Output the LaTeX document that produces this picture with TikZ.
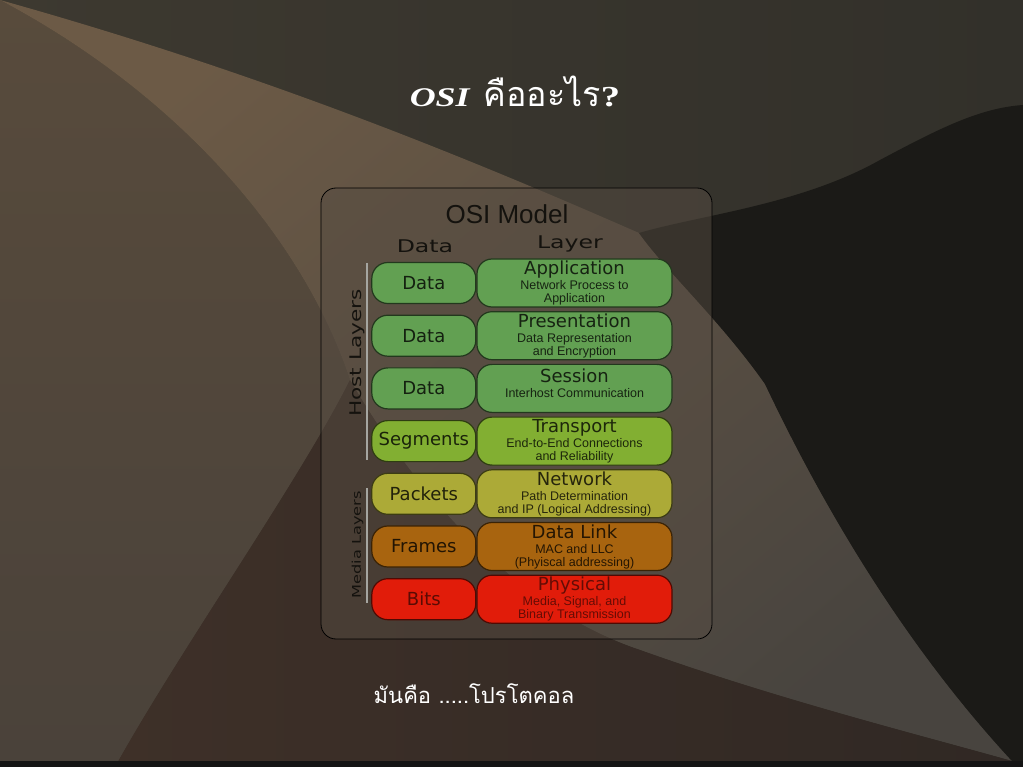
\documentclass[tikz,border=0pt]{standalone}
\usepackage{fontspec}
\setmainfont{Liberation Sans}
\newfontfamily\verd{DejaVu Sans}
\newfontfamily\wideverd[FakeStretch=1.35]{DejaVu Sans}
\newfontfamily\slidefont[FakeStretch=1.33]{Liberation Serif}
\newfontfamily\thaifont[Script=Thai]{Loma}
\usetikzlibrary{positioning}

\definecolor{bgtop}{RGB}{61,57,48}
\definecolor{bgtopr}{RGB}{50,48,42}
\definecolor{bgleft}{RGB}{88,75,60}
\definecolor{bgleftb}{RGB}{74,66,58}
\definecolor{swoosh}{RGB}{108,90,70}
\definecolor{swooshb}{RGB}{72,68,63}
\definecolor{bglow}{RGB}{62,48,40}
\definecolor{bglowr}{RGB}{48,40,36}
\definecolor{bgdark}{RGB}{27,26,23}
\definecolor{panel}{RGB}{86,76,66}
\definecolor{ink}{RGB}{20,18,14}
\definecolor{rule}{RGB}{165,165,160}
\definecolor{hostc}{RGB}{98,160,82}
\definecolor{transc}{RGB}{130,175,50}
\definecolor{netc}{RGB}{172,170,55}
\definecolor{linkc}{RGB}{168,100,15}
\definecolor{physc}{RGB}{225,28,10}

\newcommand\lname[1]{{\verd\fontsize{18}{13}\selectfont #1}}
\newcommand\descfont{\fontsize{12.5}{13}\selectfont\lineskiplimit=-20pt\relax}

\begin{document}
\begin{tikzpicture}[x=1pt, y=-1pt, node distance=3.5pt and 0pt,
    pdu/.style={draw=#1!35!black, fill=#1, line width=1.2pt, rounded corners=16pt,
      minimum width=104pt, minimum height=41pt, inner sep=0pt, text=#1!20!black,
      font=\verd\fontsize{18}{18}\selectfont},
    lyr/.style={draw=#1!35!black, fill=#1, line width=1.2pt, rounded corners=15pt,
      minimum width=195pt, minimum height=48pt, inner sep=0pt, align=center,
      text=#1!22!black, font=\descfont},
    head/.style={anchor=base, text=ink, inner sep=0pt},
    side/.style={rotate=90, text=ink, inner sep=0pt},
    sep/.style={draw=rule, line width=2pt}]

    \useasboundingbox (0,0) rectangle (1023,767);

    % background of the slide
    \shade[left color=bgtop, right color=bgtopr] (0,0) rectangle (1023,767);
    \shade[top color=bgleft, bottom color=bgleftb] (0,0) .. controls (170,90) and (300,230) .. (350,380)
        .. controls (300,480) and (180,650) .. (115,767) -- (0,767) -- cycle;
    \shade[top color=swoosh, bottom color=swooshb, shading angle=40] (0,0) .. controls (250,70) and (450,150) .. (639,233)
        .. controls (665,270) and (720,320) .. (765,384) .. controls (820,500) and (900,640) .. (1012,761)
        .. controls (920,735) and (780,700) .. (640,650) .. controls (520,610) and (420,500) .. (350,380)
        .. controls (300,230) and (170,90) .. (0,0) -- cycle;
    \shade[left color=bglow, right color=bglowr] (350,380) .. controls (420,500) and (520,610) .. (640,650)
        .. controls (780,700) and (920,735) .. (1012,761) -- (1012,767) -- (115,767)
        .. controls (180,650) and (300,480) .. (350,380) -- cycle;
    \fill[bgdark] (639,233) .. controls (700,215) and (800,205) .. (880,160)
        .. controls (940,128) and (980,108) .. (1023,105) -- (1023,761) -- (1012,761)
        .. controls (900,640) and (820,500) .. (765,384) .. controls (720,320) and (665,270) .. (639,233) -- cycle;
    \fill[black!92] (0,761) rectangle (1023,767);

    % slide texts
    \node (title) [anchor=base, text=white, inner sep=0pt] at (515,107)
        {{\slidefont\bfseries\itshape\fontsize{27}{27}\selectfont OSI}\hspace{14pt}{\thaifont\fontsize{34}{34}\selectfont คืออะไร}{\slidefont\bfseries\fontsize{29}{29}\selectfont ?}};
    \node (proto) [anchor=base, text=white, inner sep=0pt, font=\thaifont\fontsize{22}{22}\selectfont] at (474,703)
        {มันคือ .....โปรโตคอล};

    % the model panel
    \node (panel) [draw=black, line width=0.8pt, fill=panel, fill opacity=0.5, rounded corners=15pt,
        minimum width=391pt, minimum height=451pt] at (516.5,413.5) {};
    \node (model) [head, font=\fontsize{26}{26}\selectfont] at (507,224) {OSI Model};
    \node (hdata) [head, font=\wideverd\fontsize{17.5}{17.5}\selectfont] at (425,253) {Data};
    \node (hlayer) [head, font=\wideverd\fontsize{17.5}{17.5}\selectfont] at (570,249) {Layer};

    % layers
    \node (app) [lyr=hostc] at (574.5,283) {\lname{Application}\\[2pt]Network Process to\\Application};
    \node (pre) [lyr=hostc, below=of app] {\lname{Presentation}\\[2pt]Data Representation\\and Encryption};
    \node (ses) [lyr=hostc, below=of pre] {\lname{Session}\\[2pt]Interhost Communication\\[-3pt]\mbox{}};
    \node (tra) [lyr=transc, below=of ses] {\lname{Transport}\\[2pt]End-to-End Connections\\and Reliability};
    \node (net) [lyr=netc, below=of tra] {\lname{Network}\\[2pt]Path Determination\\and IP (Logical Addressing)};
    \node (lnk) [lyr=linkc, below=of net] {\lname{Data Link}\\[2pt]MAC and LLC\\(Phyiscal addressing)};
    \node (phy) [lyr=physc, below=of lnk, text=physc!45!black] {\lname{Physical}\\[2pt]Media, Signal, and\\Binary Transmission};

    % data units
    \node (d7) [pdu=hostc, left=of app] {Data};
    \node (d6) [pdu=hostc, left=of pre] {Data};
    \node (d5) [pdu=hostc, left=of ses] {Data};
    \node (d4) [pdu=transc, left=of tra] {Segments};
    \node (d3) [pdu=netc, left=of net] {Packets};
    \node (d2) [pdu=linkc, left=of lnk] {Frames};
    \node (d1) [pdu=physc, left=of phy, text=physc!40!black] {Bits};

    % host and media groups
    \draw[sep] (367,263) -- (367,460);
    \draw[sep] (367,488) -- (367,603);
    \node (host) [side, font=\wideverd\fontsize{16}{16}\selectfont] at (357,353) {Host Layers};
    \node (media) [side, font=\wideverd\fontsize{12}{12}\selectfont] at (357.5,545) {Media Layers};
\end{tikzpicture}
\end{document}
